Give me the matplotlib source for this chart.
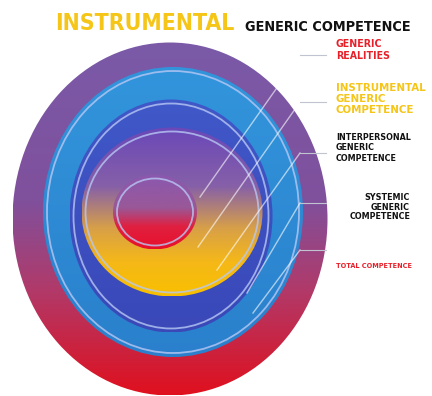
import numpy as np
import matplotlib.pyplot as plt
from matplotlib.patches import Ellipse
from matplotlib.colors import LinearSegmentedColormap

# nested ellipses (centre x, centre y, width, height) in pixel units
rings = ["total", "systemic", "interpersonal", "instrumental", "realities"]
centres = [(170, 219), (173, 212), (171, 216), (172, 212), (155, 212)]
sizes = [(315, 353), (260, 290), (203, 233), (181, 169), (84, 75)]
gradients = [
    [(0, "#7a5aa8"), (0.45, "#80509c"), (0.7, "#b03a6a"), (1, "#e0101e")],
    [(0, "#3295dc"), (1, "#2a80cc")],
    [(0, "#4058c8"), (1, "#3a48b8")],
    [(0, "#6a48b8"), (0.35, "#8660a8"), (0.6, "#d8a048"), (0.8, "#f5b818"), (1, "#f8c000")],
    [(0, "#8a58b0"), (0.45, "#9a5898"), (0.7, "#e02040"), (1, "#e8102a")],
]

label_text = ["GENERIC\nREALITIES", "INSTRUMENTAL\nGENERIC\nCOMPETENCE",
              "INTERPERSONAL\nGENERIC\nCOMPETENCE", "SYSTEMIC\nGENERIC\nCOMPETENCE",
              "TOTAL COMPETENCE"]
label_color = ["#e8202a", "#f5c518", "#111111", "#111111", "#e8202a"]
label_y = [50, 99, 148, 207, 266]
connector_y = [55, 102, 153, 203, 250]
line_start = [(200, 197), (198, 247), (217, 270), (247, 293), (253, 313)]

fig = plt.figure(figsize=(4.32, 3.96), dpi=100)
ax = fig.add_axes([0, 0, 1, 1])

for (cx, cy), (w, h), stops in zip(centres, sizes, gradients):
    cmap = LinearSegmentedColormap.from_list("g", stops)
    e = Ellipse((cx, cy), w, h, facecolor="none", edgecolor="none")
    ax.add_patch(e)
    grad = np.linspace(0, 1, 256).reshape(-1, 1)
    im = ax.imshow(grad, cmap=cmap, aspect="auto",
                   extent=(cx - w / 2, cx + w / 2, cy + h / 2, cy - h / 2))
    im.set_clip_path(e)

# light rims
for (cx, cy), (w, h) in zip(centres[1:], sizes[1:]):
    ax.add_patch(Ellipse((cx, cy), w - 8, h - 8, facecolor="none",
                         edgecolor="#b8c8f4", lw=1.3, alpha=0.8))

for (x0, y0), yc in zip(line_start, connector_y):
    ax.plot([x0, 300], [y0, yc], color="white", lw=1, alpha=0.6)
    ax.plot([300, 326], [yc, yc], color="#c0c4d0", lw=0.8)

fn = "DejaVu Sans"
st = "condensed"
ax.text(55, 24, "INSTRUMENTAL", color="#f5c518", fontsize=16.5, fontweight="bold",
        family=fn, fontstretch=st, va="center")
ax.text(245, 27, "GENERIC COMPETENCE", color="#111111", fontsize=10.4, fontweight="bold",
        family=fn, fontstretch=st, va="center")

sizes_txt = [7.6, 8.2, 6.4, 6.4, 5.2]
for i in range(5):
    if i == 3:
        ax.text(410, label_y[i], label_text[i], color=label_color[i], fontsize=sizes_txt[i],
                fontweight="bold", family=fn, fontstretch=st, va="center", ha="right",
                ma="right", linespacing=1.05)
    else:
        ax.text(336, label_y[i], label_text[i], color=label_color[i], fontsize=sizes_txt[i],
                fontweight="bold", family=fn, fontstretch=st, va="center", linespacing=1.15)

ax.set_xlim(0, 432)
ax.set_ylim(396, 0)
ax.axis("off")
fig.savefig("out.png", dpi=100)
